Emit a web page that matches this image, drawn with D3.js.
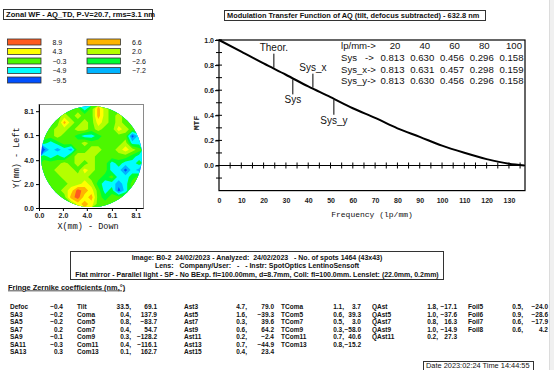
<!DOCTYPE html>
<html>
<head>
<meta charset="utf-8">
<script src="https://cdn.jsdelivr.net/npm/d3@7"></script>
<style>
  body { margin: 0; background: #fff; }
  text { font-family: "Liberation Sans", Arial, sans-serif; fill: #111; }
  .mono { font-family: "Liberation Mono", "DejaVu Sans Mono", monospace; }
  .tick text { font-size: 7px; font-weight: bold; fill: #222; }
</style>
</head>
<body>
<div id="chart"></div>
<script>

// wavefront map
const wfTitle = "Zonal WF - AQ_TD, P-V=20.7, rms=3.1 nm";
const wfLevels = [8.9, 6.6, 4.3, 2.0, -0.3, -2.6, -4.9, -7.2, -9.5];
const wfColors = ["#ff5a1e", "#ffb400", "#ffff00", "#b4ff00", "#4cf800", "#00ff30", "#00ffff", "#00b4ff", "#0050ff"];
const wfTicks = [0, 2.0, 4.0, 6.1, 8.1];
const wfDiam = 8.7;
// 15x15 grid (rows top -> bottom), nm
const wfGrid = [
  [-0.3,-0.3,-0.3,-0.3,-0.3,-0.3,-4.9,-0.3,6.6,2.0,-0.3,-0.3,-0.3,-0.3,-0.3],
  [-0.3,-0.3,-0.3,2.0,-0.3,2.0,-0.3,-0.3,6.6,2.0,-0.3,2.0,-0.3,-0.3,-0.3],
  [-0.3,-0.3,-0.3,6.6,2.0,-0.3,2.0,-0.3,4.3,2.0,-0.3,2.0,-0.3,-0.3,-0.3],
  [-0.3,-0.3,2.0,2.0,-0.3,2.0,2.0,-0.3,2.0,-0.3,-0.3,4.3,2.0,-0.3,-0.3],
  [-0.3,-0.3,2.0,-0.3,-0.3,-2.6,-4.9,-4.9,-2.6,-0.3,-0.3,-0.3,-0.3,-9.5,-4.9],
  [-2.6,-4.9,-2.6,-0.3,-0.3,-0.3,2.0,-0.3,-0.3,-0.3,-0.3,-0.3,2.0,-4.9,-4.9],
  [-9.5,-4.9,-7.2,-4.9,-7.2,-0.3,-0.3,2.0,2.0,-0.3,-0.3,2.0,4.3,2.0,-0.3],
  [-2.6,-4.9,-2.6,-4.9,-0.3,2.0,2.0,2.0,-0.3,-0.3,-0.3,-0.3,-0.3,-2.6,-4.9],
  [-0.3,-0.3,-0.3,2.0,-0.3,2.0,-0.3,2.0,-0.3,-0.3,-4.9,-2.6,-4.9,-4.9,-2.6],
  [-0.3,-0.3,2.0,2.0,2.0,-0.3,4.3,2.0,-0.3,-0.3,-4.9,-4.9,-9.5,-4.9,-7.2],
  [-0.3,-0.3,-0.3,2.0,2.0,2.0,2.0,-0.3,-0.3,-2.6,-0.3,-4.9,-4.9,-2.6,-0.3],
  [-0.3,-0.3,-0.3,-0.3,2.0,2.0,4.3,2.0,-2.6,-4.9,-4.9,-7.2,-4.9,-0.3,-0.3],
  [-0.3,-0.3,-0.3,2.0,4.3,8.9,6.6,4.3,-0.3,-4.9,-2.6,-9.5,-4.9,-0.3,-0.3],
  [-0.3,-0.3,-0.3,-0.3,6.6,8.9,4.3,6.6,-0.3,-2.6,-0.3,-0.3,-0.3,-0.3,-0.3],
  [-0.3,-0.3,-0.3,-0.3,-0.3,4.3,6.6,4.3,-0.3,-0.3,-0.3,-0.3,-0.3,-0.3,-0.3]
];

// MTF
const mtfTitle = "Modulation Transfer Function of AQ (tilt, defocus subtracted) - 632.8 nm";
const mtfFreq = [0, 10, 20, 30, 40, 50, 60, 70, 80, 90, 100, 110, 120, 130, 137];
const mtfSys  = [1.0, 0.907, 0.813, 0.723, 0.630, 0.545, 0.456, 0.379, 0.296, 0.228, 0.158, 0.101, 0.051, 0.014, 0.0];
const mtfYTicks = [0.0, 0.2, 0.4, 0.6, 0.8, 1.0];
const mtfXTicks = [0, 10, 20, 30, 40, 50, 60, 70, 80, 90, 100, 110, 120, 130];
const tableFreq = [20, 40, 60, 80, 100];
const tableNames = ["Sys   ->", "Sys_x->", "Sys_y->"];
const tableSys  = [0.813, 0.630, 0.456, 0.296, 0.158];
const tableSysX = [0.813, 0.631, 0.457, 0.298, 0.159];
const tableSysY = [0.813, 0.630, 0.456, 0.296, 0.158];
const curveLabels = ["Theor.", "Sys_x", "Sys", "Sys_y"];
const curveLabelFreq = [24.6, 42.1, 33.1, 51.5];
const curveLabelUp = [true, true, false, false];

// info
const infoLines = [
  "Image: B0-2  24/02/2023 - Analyzed:  24/02/2023   - No. of spots 1464 (43x43)",
  "Lens:   Company/User:   -   - Instr: SpotOptics LentinoSensoft",
  "Flat mirror - Parallel light - SP - No BExp. fl=100.00mm, d=8.7mm, Coll: fl=100.0mm. Lenslet: (22.0mm, 0.2mm)"
];
const dateText = "Date 2023:02:24 Time 14:44:55";

// Fringe Zernike coefficients
const zkNames1 = ["Defoc", "SA3", "SA5", "SA7", "SA9", "SA11", "SA13"];
const zkVals1  = [-0.4, -0.2, -0.2, 0.2, -0.1, -0.3, 0.3];
const zkNames2 = ["Tilt", "Coma", "Com5", "Com7", "Com9", "Com11", "Com13"];
const zkMag2   = [33.5, 0.4, 0.8, 0.4, 0.3, 0.4, 0.1];
const zkAng2   = [69.1, 137.9, -83.7, 54.7, -128.2, -116.1, 162.7];
const zkNames3 = ["Ast3", "Ast5", "Ast7", "Ast9", "Ast11", "Ast13", "Ast15"];
const zkMag3   = [4.7, 1.6, 0.3, 0.6, 0.2, 0.7, 0.4];
const zkAng3   = [79.0, -39.3, 39.6, 64.2, -2.4, -44.9, 23.4];
const zkNames4 = ["TComa", "TCom5", "TCom7", "TCom9", "TCom11", "TCom13"];
const zkMag4   = [1.1, 0.6, 0.5, 0.3, 0.7, 0.8];
const zkAng4   = [3.7, 39.3, 3.0, -58.0, 40.6, -15.2];
const zkNames5 = ["QAst", "QAst5", "QAst7", "QAst9", "QAst11"];
const zkMag5   = [1.8, 1.0, 0.8, 1.0, 0.2];
const zkAng5   = [-17.1, -37.6, 16.3, -14.9, 27.3];
const zkNames6 = ["Foil5", "Foil6", "Foil7", "Foil8"];
const zkMag6   = [0.5, 0.9, 0.6, 0.6];
const zkAng6   = [-24.0, -28.6, -17.9, 4.2];

const width = 554, height = 370;
const f1 = d3.format(".1f"), f3 = d3.format(".3f");

const svg = d3.select("#chart").append("svg")
  .attr("width", width).attr("height", height);

// right edge strip (window scrollbar)
svg.append("rect").attr("x", 549).attr("y", 0).attr("width", 5).attr("height", height)
  .attr("fill", "#f0f0f0");
svg.append("line").attr("x1", 549.5).attr("x2", 549.5).attr("y1", 0).attr("y2", height)
  .attr("stroke", "#dcdcdc");

/* ---------- wavefront panel ---------- */

svg.append("rect").attr("x", 3.5).attr("y", 9.5).attr("width", 149).attr("height", 10)
  .attr("fill", "#fff").attr("stroke", "#333");
svg.append("text").attr("x", 6).attr("y", 17.3)
  .attr("font-size", 7.6).attr("font-weight", "bold").text(wfTitle);

// legend, two per row
const color = d3.scaleOrdinal().domain(wfLevels).range(wfColors);
const leg = svg.append("g").selectAll("g").data(wfLevels).join("g")
  .attr("transform", (d, i) => `translate(${i % 2 ? 87 : 7.5},${39 + Math.floor(i / 2) * 9.5})`);
leg.append("rect").attr("width", 33.5).attr("height", 6)
  .attr("fill", d => color(d)).attr("stroke", "#333").attr("stroke-width", 0.8);
leg.append("text").attr("x", 45).attr("y", 5.6)
  .attr("font-size", 7).attr("fill", "#444").text(d => f1(d));

// map scales
const xw = d3.scaleLinear().domain([0, wfDiam]).range([39, 143]);
const yw = d3.scaleLinear().domain([0, wfDiam]).range([208, 104]);
const n = wfGrid.length;
const gx = d3.scaleLinear().domain([0, n]).range([xw(0) + 1.5, xw(wfDiam) - 0.5]);
const gy = d3.scaleLinear().domain([0, n]).range([yw(wfDiam) + 1.5, yw(0) - 0.5]);

svg.append("clipPath").attr("id", "pupil").append("circle")
  .attr("cx", xw(wfDiam / 2) + 0.5).attr("cy", yw(wfDiam / 2) + 0.5).attr("r", 50.5);

const asc = wfLevels.slice().reverse();
const thresholds = asc.slice(1).map((v, i) => (asc[i] + v) / 2);
const contours = d3.contours().size([n, n]).thresholds(thresholds)(wfGrid.flat());
const gridPath = d3.geoPath(d3.geoTransform({
  point(x, y) { this.stream.point(gx(x), gy(y)); }
}));

const map = svg.append("g").attr("clip-path", "url(#pupil)");
map.append("rect").attr("x", gx(0)).attr("y", gy(0))
  .attr("width", gx(n) - gx(0)).attr("height", gy(n) - gy(0))
  .attr("fill", color(asc[0]));
map.selectAll("path").data(contours).join("path")
  .attr("d", gridPath)
  .attr("fill", (d, i) => color(asc[i + 1]));

// frame and axes
svg.append("rect").attr("x", xw(0)).attr("y", yw(wfDiam) + 0.5)
  .attr("width", xw(wfDiam) - xw(0) + 0.5).attr("height", yw(0) - yw(wfDiam))
  .attr("fill", "none").attr("stroke", "#8a8a8a");
svg.append("g").attr("transform", `translate(0,${yw(0)})`)
  .call(d3.axisBottom(xw).tickValues(wfTicks).tickFormat(f1).tickSize(3).tickSizeOuter(0).tickPadding(2));
svg.append("g").attr("transform", `translate(${xw(0)},0)`)
  .call(d3.axisLeft(yw).tickValues(wfTicks).tickFormat(f1).tickSize(3).tickSizeOuter(0).tickPadding(2));
svg.append("text").attr("class", "mono").attr("x", 88).attr("y", 229)
  .attr("text-anchor", "middle").attr("font-size", 8.5).text("X(mm) - Down");
svg.append("text").attr("class", "mono")
  .attr("transform", "translate(19,158) rotate(-90)")
  .attr("text-anchor", "middle").attr("font-size", 8.5).text("Y(mm) - Left");

/* ---------- MTF panel ---------- */

svg.append("rect").attr("x", 224.5).attr("y", 10.5).attr("width", 261).attr("height", 10)
  .attr("fill", "#fff").attr("stroke", "#333");
svg.append("text").attr("x", 227).attr("y", 18.2)
  .attr("font-size", 7.4).attr("font-weight", "bold").text(mtfTitle);

const x = d3.scaleLinear().domain([0, 137.2]).range([219, 525]);
const y = d3.scaleLinear().domain([-0.2, 1.0]).range([190.6, 40]);

svg.append("rect").attr("x", x(0)).attr("y", y(1))
  .attr("width", x(137.2) - x(0)).attr("height", y(-0.2) - y(1))
  .attr("fill", "none").attr("stroke", "#000").attr("stroke-width", 1.2);

// y ticks (labels + crossing marks)
svg.append("g").attr("transform", `translate(${x(0)},0)`)
  .call(d3.axisLeft(y).tickValues(mtfYTicks).tickFormat(f1).tickSize(4).tickSizeOuter(0).tickPadding(1))
  .call(g => g.select(".domain").remove());
svg.append("g").selectAll("line").data(d3.range(-1, 11).map(k => k / 10)).join("line")
  .attr("x1", x(0) - 3).attr("x2", x(0) + 3)
  .attr("y1", d => y(d)).attr("y2", d => y(d))
  .attr("stroke", "#000");

// zero line with crossing marks
svg.append("line").attr("x1", x(0)).attr("x2", x(137.2)).attr("y1", y(0)).attr("y2", y(0))
  .attr("stroke", "#000").attr("stroke-width", 1.2);
svg.append("g").selectAll("line").data(d3.range(1, 28).map(k => k * 5)).join("line")
  .attr("x1", d => x(d)).attr("x2", d => x(d))
  .attr("y1", y(0) - 3).attr("y2", y(0) + 3)
  .attr("stroke", "#000");

// x tick labels
svg.append("g").attr("transform", `translate(0,${y(-0.2)})`)
  .call(d3.axisBottom(x).tickValues(mtfXTicks).tickFormat(d3.format("d")).tickSize(0).tickPadding(7))
  .call(g => g.select(".domain").remove());

svg.append("text").attr("class", "mono").attr("x", 372).attr("y", 217)
  .attr("text-anchor", "middle").attr("font-size", 8).text("Frequency (lp/mm)");
svg.append("text").attr("class", "mono").attr("font-weight", "bold")
  .attr("transform", "translate(199,123) rotate(-90)")
  .attr("text-anchor", "middle").attr("font-size", 8).text("MTF");

// curve
const mtfData = mtfFreq.map((f, i) => ({ f, v: mtfSys[i] }));
svg.append("path").datum(mtfData)
  .attr("fill", "none").attr("stroke", "#000").attr("stroke-width", 2)
  .attr("d", d3.line().x(d => x(d.f)).y(d => y(d.v)).curve(d3.curveMonotoneX));

// curve labels with leaders
const interp = f => {
  const i = d3.bisectRight(mtfFreq, f) - 1;
  const t = (f - mtfFreq[i]) / (mtfFreq[i + 1] - mtfFreq[i]);
  return mtfSys[i] + t * (mtfSys[i + 1] - mtfSys[i]);
};
curveLabels.forEach((lab, i) => {
  const cx = x(curveLabelFreq[i]), cy = y(interp(curveLabelFreq[i]));
  const up = curveLabelUp[i];
  svg.append("line").attr("x1", cx).attr("x2", cx)
    .attr("y1", up ? cy - 15 : cy + 1).attr("y2", up ? cy - 1 : cy + 16)
    .attr("stroke", "#000");
  svg.append("text").attr("x", cx).attr("y", up ? cy - 18 : cy + 25)
    .attr("text-anchor", "middle").attr("font-size", 10).attr("fill", "#222").text(lab);
});

// value table
const colX = d3.scalePoint().domain(tableFreq).range([392, 511]);
const rowY = [49, 61, 72.5, 84];
svg.append("text").attr("x", 341).attr("y", rowY[0]).attr("font-size", 9.6).text("lp/mm->");
svg.selectAll(".hdr").data(tableFreq).join("text")
  .attr("x", d => colX(d) + 3).attr("y", rowY[0])
  .attr("text-anchor", "middle").attr("font-size", 9.6).text(d => d);
[tableSys, tableSysX, tableSysY].forEach((vals, r) => {
  svg.append("text").attr("x", 341).attr("y", rowY[r + 1]).attr("font-size", 9.6)
    .attr("xml:space", "preserve").text(tableNames[r]);
  svg.append("g").selectAll("text").data(vals).join("text")
    .attr("x", (d, i) => colX(tableFreq[i]) + 0.5)
    .attr("y", rowY[r + 1])
    .attr("text-anchor", "middle").attr("font-size", 9.6).text(d => f3(d));
});

/* ---------- info box ---------- */

svg.append("rect").attr("x", 70.5).attr("y", 251.5).attr("width", 373).attr("height", 28)
  .attr("fill", "#fff").attr("stroke", "#333");
svg.append("g").selectAll("text").data(infoLines).join("text")
  .attr("x", 257).attr("y", (d, i) => 259.5 + i * 8.6)
  .attr("text-anchor", "middle").attr("font-size", 7).attr("font-weight", "bold")
  .attr("xml:space", "preserve").text(d => d);

svg.append("text").attr("x", 8).attr("y", 289.5)
  .attr("font-size", 7.4).attr("font-weight", "bold")
  .attr("text-decoration", "underline").text("Fringe Zernike coefficients (nm,°)");

/* ---------- coefficient columns ---------- */

const zkRow = i => 309 + i * 7.5;
const zkCols = [
  { names: zkNames1, a: zkVals1, nx: 10, ax: 63 },
  { names: zkNames2, a: zkMag2, b: zkAng2, nx: 77, ax: 131, bx: 157 },
  { names: zkNames3, a: zkMag3, b: zkAng3, nx: 184, ax: 247, bx: 274 },
  { names: zkNames4, a: zkMag4, b: zkAng4, nx: 281, ax: 344, bx: 361 },
  { names: zkNames5, a: zkMag5, b: zkAng5, nx: 372, ax: 438, bx: 457 },
  { names: zkNames6, a: zkMag6, b: zkAng6, nx: 468, ax: 523, bx: 548 }
];
const zk = svg.append("g").attr("font-size", 6.5).attr("font-weight", "bold");
zkCols.forEach(c => {
  c.names.forEach((nm, i) => {
    zk.append("text").attr("x", c.nx).attr("y", zkRow(i)).text(nm);
    zk.append("text").attr("x", c.ax).attr("y", zkRow(i)).attr("text-anchor", "end")
      .text(f1(c.a[i]) + (c.b ? "," : ""));
    if (c.b) {
      zk.append("text").attr("x", c.bx).attr("y", zkRow(i)).attr("text-anchor", "end")
        .text(f1(c.b[i]));
    }
  });
});

// date box
svg.append("rect").attr("x", 423.5).attr("y", 361.5).attr("width", 110).attr("height", 9)
  .attr("fill", "#fff").attr("stroke", "#333");
svg.append("text").attr("x", 426).attr("y", 368.3).attr("font-size", 7.4).text(dateText);

</script>
</body>
</html>
